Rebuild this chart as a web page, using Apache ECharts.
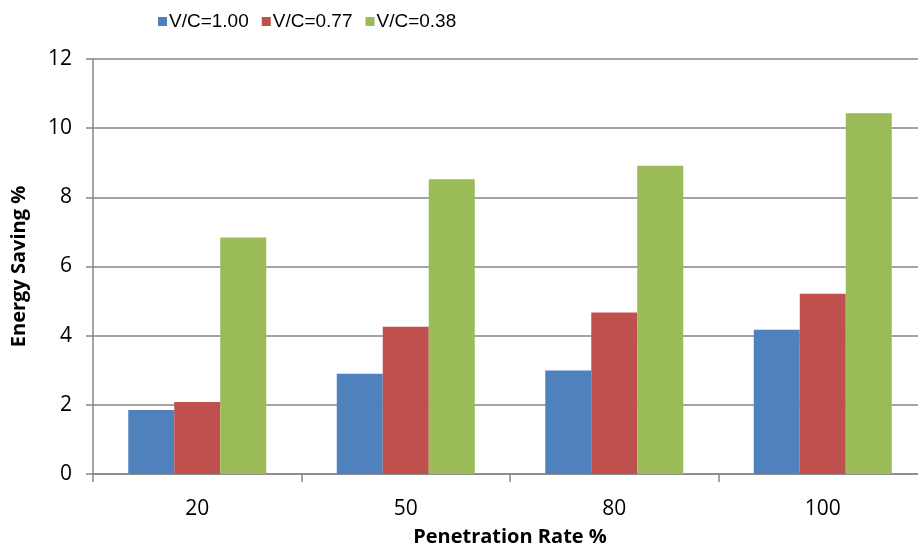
<!DOCTYPE html>
<html>
<head>
<meta charset="utf-8">
<script src="https://cdn.jsdelivr.net/npm/echarts@6/dist/echarts.min.js"></script>
<style>
  html, body { margin: 0; padding: 0; background: #fff; }
  #chart { width: 918px; height: 550px; }
</style>
</head>
<body>
<div id="chart"></div>
<script>
var categories = ['20', '50', '80', '100'];
var seriesNames = ['V/C=1.00', 'V/C=0.77', 'V/C=0.38'];
var vc100 = [1.85, 2.9, 2.99, 4.17];
var vc077 = [2.08, 4.26, 4.67, 5.21];
var vc038 = [6.84, 8.52, 8.91, 10.43];
var colors = ['#4F81BD', '#C0504D', '#9BBB59'];

var font = 'Open Sans, Liberation Sans, sans-serif';
var chart = echarts.init(document.getElementById('chart'));

function barSeries(name, data, color) {
    return {
        name: name,
        type: 'bar',
        data: data,
        barWidth: 46,
        barGap: '0%',
        itemStyle: { color: color },
        emphasis: { disabled: true }
    };
}

chart.setOption({
    animation: false,
    color: colors,
    legend: {
        left: 153,
        top: 7,
        itemWidth: 9,
        itemHeight: 9,
        itemGap: 13,
        icon: 'rect',
        textStyle: { fontFamily: '"Liberation Sans", Arial, sans-serif', fontSize: 19, color: '#000', padding: [0, 0, 0, -3] },
        data: seriesNames
    },
    // plot area runs past the right edge, as in the cropped original
    grid: { left: 93, right: -9, top: 59, bottom: 76, containLabel: false, outerBoundsMode: 'none' },
    xAxis: {
        type: 'category',
        data: categories,
        name: 'Penetration Rate %',
        nameLocation: 'middle',
        nameGap: 53,
        nameTextStyle: { fontFamily: font, fontSize: 20, fontWeight: 'bold', color: '#000' },
        axisLine: { lineStyle: { color: '#868686', width: 1.5 } },
        axisTick: { show: true, length: 8, lineStyle: { color: '#868686', width: 1.5 } },
        axisLabel: { fontFamily: font, fontSize: 21, color: '#000', margin: 25 }
    },
    yAxis: {
        type: 'value',
        min: 0,
        max: 12,
        interval: 2,
        name: 'Energy Saving %',
        nameLocation: 'middle',
        nameGap: 64,
        nameTextStyle: { fontFamily: font, fontSize: 20, fontWeight: 'bold', color: '#000' },
        axisLine: { show: true, lineStyle: { color: '#868686', width: 1.5 } },
        axisTick: { show: true, length: 7, lineStyle: { color: '#868686', width: 1.5 } },
        axisLabel: { fontFamily: font, fontSize: 21, color: '#000', margin: 21 },
        splitLine: { lineStyle: { color: '#868686', width: 1.5 } }
    },
    series: [
        barSeries(seriesNames[0], vc100, colors[0]),
        barSeries(seriesNames[1], vc077, colors[1]),
        barSeries(seriesNames[2], vc038, colors[2])
    ]
});
</script>
</body>
</html>
